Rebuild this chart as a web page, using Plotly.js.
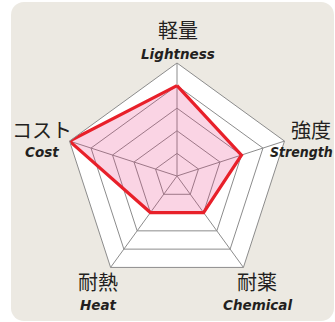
<!DOCTYPE html>
<html><head><meta charset="utf-8">
<script src="https://cdn.plot.ly/plotly-3.0.1.min.js"></script>
<style>
html,body{margin:0;padding:0;background:#fff;}
#wrap{position:relative;width:335px;height:322px;overflow:hidden}
#panel{position:absolute;left:11px;top:2px;width:323px;height:319px;background:#ece9e2;border-radius:13px}
#chart{position:absolute;left:0;top:0;width:335px;height:322px}
</style></head><body>
<div id="wrap"><div id="panel"></div><div id="chart"></div></div>
<script>
const categories = ['Lightness', 'Strength', 'Chemical', 'Heat', 'Cost'];
const labelsJa = ['軽量', '強度', '耐薬', '耐熱', 'コスト'];
const values = [4, 3, 2, 2, 5];

const W = 335, H = 322;
// label anchor positions (pixels): [x, yJa, yEn]
const labelPos = [[178, 30, 54], [311, 129, 152], [257, 281, 305], [98, 281, 305], [42, 129, 152]];

const annotations = [];
labelPos.forEach((p, i) => {
  annotations.push({xref:'paper', yref:'paper', x:p[0]/W, y:1-p[1]/H, xanchor:'center', yanchor:'middle',
    text: labelsJa[i], showarrow:false,
    font:{family:'"Noto Sans CJK JP", "Noto Sans", sans-serif', size:20, color:'#231f20'}});
  const narrow = (categories[i] === 'Strength');
  annotations.push({xref:'paper', yref:'paper',
    x: narrow ? 335/W : p[0]/W, y:1-p[2]/H,
    xanchor: narrow ? 'right' : 'center', yanchor:'middle',
    text: categories[i], showarrow:false,
    font:{family: narrow ? '"Liberation Sans Narrow", "DejaVu Sans Condensed", sans-serif' : '"DejaVu Sans", sans-serif',
      size: narrow ? 14 : 13.5, color:'#231f20', weight:'bold', style:'italic'}});
});

const trace = {
  type:'scatterpolar',
  r: values.concat([values[0]]),
  theta: categories.concat([categories[0]]),
  mode:'lines',
  fill:'toself',
  fillcolor:'rgba(232,40,120,0.2)',
  line:{color:'#e8202a', width:3.2},
  hoverinfo:'skip'
};

const layout = {
  width:W, height:H,
  margin:{l:0, r:0, t:0, b:0},
  paper_bgcolor:'rgba(0,0,0,0)',
  showlegend:false,
  polar:{
    domain:{x:[64/W, 290/W], y:[33/H, 259/H]},
    gridshape:'linear',
    bgcolor:'#ffffff',
    radialaxis:{range:[0,5], dtick:1, tick0:0, showticklabels:false, ticks:'', showline:false,
      gridcolor:'#8c8c8c', gridwidth:1},
    angularaxis:{rotation:90, direction:'clockwise', showticklabels:false, ticks:'',
      linecolor:'#8c8c8c', linewidth:1, gridcolor:'#8c8c8c', gridwidth:1}
  },
  annotations: annotations
};

Plotly.newPlot('chart', [trace], layout, {displayModeBar:false, staticPlot:true});
</script>
</body></html>
